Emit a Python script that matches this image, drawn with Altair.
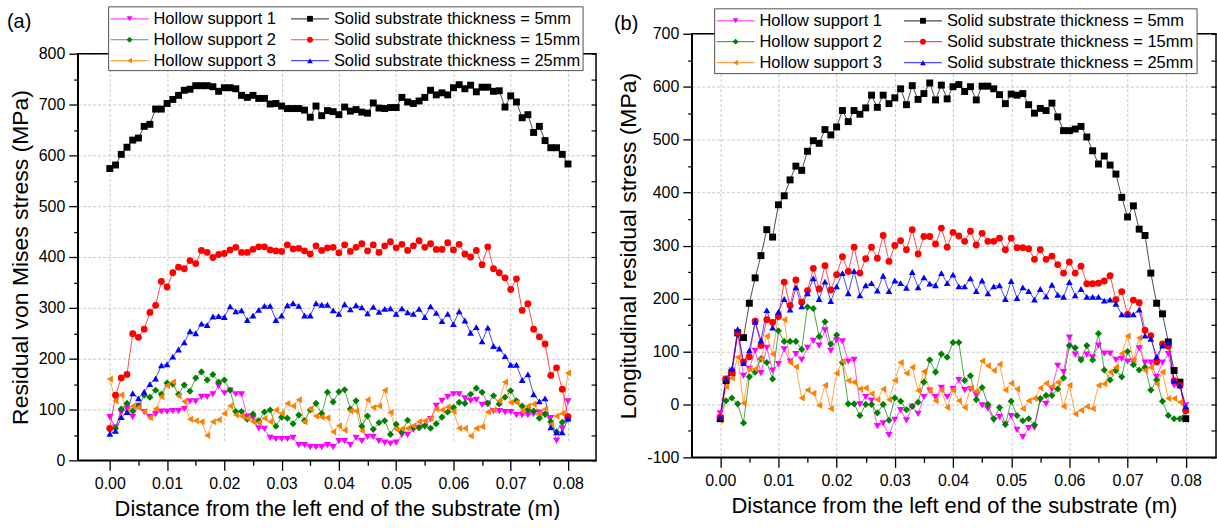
import altair as alt
import pandas as pd

# ---------------- data ----------------
X_POS = [round(i * 0.001, 3) for i in range(81)]

SERIES = ["Hollow support 1", "Hollow support 2", "Hollow support 3",
          "Solid substrate thickness = 5mm", "Solid substrate thickness = 15mm",
          "Solid substrate thickness = 25mm"]
COLORS = ["#ff00ff", "#008000", "#ff8000", "#000000", "#ff0000", "#0000ff"]
SHAPES = ["triangle-down", "diamond", "triangle-left", "square", "circle", "triangle-up"]
SIZES = [52, 46, 52, 44, 48, 52]

# (a) residual von Mises stress
A_HOLLOW1 = [85, 65, 94, 101, 85, 107, 95, 85, 91, 96,
             96, 97, 97, 101, 116, 116, 125, 125, 130, 146,
             132, 137, 130, 130, 86, 83, 63, 62, 44, 42,
             42, 42, 44, 30, 30, 26, 26, 26, 30, 26,
             38, 38, 30, 44, 38, 46, 46, 38, 35, 33,
             35, 50, 50, 60, 64, 66, 81, 107, 117, 125,
             130, 130, 122, 117, 119, 109, 111, 97, 97, 95,
             95, 89, 89, 89, 91, 94, 89, 83, 39, 63,
             116]
A_HOLLOW2 = [61, 63, 101, 112, 97, 107, 128, 124, 138, 130,
             152, 150, 130, 148, 136, 162, 174, 158, 169, 154,
             158, 138, 96, 96, 81, 91, 78, 95, 99, 67,
             85, 83, 72, 89, 78, 99, 112, 92, 134, 115,
             135, 139, 101, 117, 67, 87, 61, 74, 78, 51,
             71, 56, 79, 64, 64, 68, 63, 72, 85, 95,
             104, 114, 112, 130, 142, 134, 112, 127, 111, 124,
             137, 117, 107, 99, 97, 83, 91, 76, 56, 75,
             81]
A_HOLLOW3 = [160, 117, 129, 97, 107, 104, 96, 84, 101, 125,
             147, 154, 127, 116, 81, 78, 76, 49, 76, 80,
             92, 107, 89, 87, 83, 76, 74, 83, 76, 99,
             92, 112, 107, 119, 76, 101, 87, 85, 84, 56,
             68, 59, 97, 97, 58, 119, 104, 107, 138, 94,
             61, 62, 63, 68, 76, 78, 83, 101, 99, 105,
             96, 63, 63, 48, 63, 66, 95, 99, 117, 154,
             114, 114, 97, 107, 111, 92, 101, 70, 87, 92,
             172]
A_SOLID5 = [574, 581, 602, 616, 630, 634, 657, 661, 691, 691,
            702, 710, 718, 728, 730, 737, 737, 737, 735, 726,
            733, 733, 731, 718, 714, 718, 712, 712, 701, 702,
            697, 692, 692, 692, 689, 675, 697, 678, 688, 686,
            680, 695, 687, 690, 685, 683, 703, 693, 692, 694,
            694, 714, 705, 702, 707, 714, 728, 719, 723, 719,
            733, 739, 731, 738, 725, 734, 734, 726, 727, 695,
            717, 705, 674, 680, 645, 657, 629, 615, 615, 602,
            583]
A_SOLID15 = [63, 128, 162, 169, 249, 242, 258, 291, 305, 352,
             341, 369, 380, 377, 393, 387, 413, 409, 399, 405,
             407, 414, 419, 409, 409, 415, 420, 420, 414, 412,
             411, 424, 416, 417, 412, 406, 422, 413, 418, 419,
             408, 424, 411, 419, 426, 412, 424, 409, 422, 430,
             418, 425, 413, 422, 432, 419, 426, 415, 415, 428,
             414, 425, 406, 400, 413, 385, 420, 377, 369, 359,
             336, 357, 295, 308, 258, 243, 229, 167, 182, 140,
             86]
A_SOLID25 = [52, 58, 85, 95, 132, 122, 135, 150, 161, 187,
             189, 204, 218, 232, 254, 250, 269, 266, 283, 284,
             282, 303, 293, 295, 276, 285, 296, 304, 304, 276,
             285, 305, 309, 304, 285, 285, 309, 306, 306, 295,
             288, 307, 297, 305, 301, 289, 302, 292, 298, 299,
             288, 299, 291, 288, 298, 282, 303, 290, 274, 288,
             268, 293, 275, 251, 262, 234, 261, 225, 220, 205,
             188, 188, 158, 169, 130, 116, 122, 65, 55, 55,
             82]

# (b) longitudinal residual stress
B_HOLLOW1 = [-17, 48, 64, 136, 54, 67, 101, 59, 107, 64,
             76, 104, 81, 95, 84, 107, 120, 111, 140, 101,
             121, 119, 81, 84, 0, 14, 7, -41, -36, -58,
             -29, -11, -30, -4, -18, 14, 26, 14, 31, 14,
             29, 46, 27, 29, 17, -2, -8, -30, -24, -38,
             -22, -48, -62, -45, -44, 8, 1, 29, 73, 61,
             126, 94, 84, 94, 89, 111, 96, 96, 84, 86,
             81, 81, 106, 79, 79, 52, 79, 95, 36, 36,
             -2]
B_HOLLOW2 = [-24, 7, 12, 1, -35, 52, 61, 86, 79, 48,
             139, 119, 119, 119, 104, 184, 181, 128, 156, 114,
             131, 79, 1, 1, -21, 0, 0, -16, 0, -30,
             12, 6, -10, -4, 4, 42, 84, 61, 95, 89,
             117, 117, 45, 54, 9, 32, 0, -27, -6, -38,
             6, -21, -31, -27, -39, 11, 17, 17, 29, 50,
             111, 107, 84, 111, 84, 134, 65, 46, 64, 52,
             100, 75, 65, 70, 27, 46, 6, -21, -27, -27,
             -11]
B_HOLLOW3 = [-30, 34, 50, 89, 2, 67, 67, 86, 129, 95,
             171, 160, 79, 71, 12, 27, 21, -2, 36, -8,
             59, 81, 45, 42, 29, 31, 20, 9, 29, 9,
             45, 79, 59, 70, 26, 62, 26, 7, 27, -6,
             27, 7, -6, 31, 25, 82, 73, 64, 76, 27,
             40, 29, -8, 7, 11, 31, 40, 34, 42, -4,
             36, -18, -11, -4, -8, 36, 39, 61, 70, 96,
             129, 84, 126, 64, 70, 39, 61, 11, 11, 4,
             -11]
B_SOLID5 = [-27, 45, 60, 135, 126, 191, 239, 281, 330, 316,
            377, 394, 424, 450, 442, 478, 498, 493, 519, 509,
            524, 555, 534, 555, 548, 560, 584, 561, 584, 568,
            579, 596, 566, 602, 576, 587, 607, 575, 603, 577,
            600, 604, 591, 600, 575, 601, 601, 596, 585, 568,
            586, 584, 587, 566, 550, 559, 555, 569, 543, 517,
            517, 520, 525, 505, 479, 454, 469, 452, 435, 391,
            354, 375, 331, 319, 248, 191, 171, 118, 64, 42,
            -27]
B_SOLID15 = [-24, 48, 60, 136, 80, 90, 157, 111, 160, 155,
             166, 231, 187, 235, 193, 215, 257, 218, 262, 216,
             245, 279, 251, 297, 248, 275, 297, 276, 319, 270,
             300, 309, 292, 330, 284, 317, 317, 303, 333, 297,
             325, 318, 308, 327, 301, 323, 308, 308, 314, 292,
             314, 296, 296, 294, 274, 292, 274, 280, 264, 248,
             269, 248, 261, 228, 228, 229, 233, 243, 198, 213,
             170, 197, 192, 140, 130, 80, 114, 110, 45, 36,
             -12]
B_SOLID25 = [-24, 48, 67, 142, 78, 102, 156, 121, 178, 145,
             175, 199, 179, 221, 185, 210, 238, 199, 232, 195,
             223, 248, 210, 252, 206, 225, 229, 215, 243, 214,
             234, 229, 220, 250, 221, 240, 228, 225, 248, 229,
             245, 223, 223, 238, 214, 234, 210, 223, 225, 199,
             233, 201, 221, 214, 198, 218, 204, 226, 207, 203,
             231, 206, 218, 203, 203, 203, 196, 198, 190, 170,
             170, 170, 179, 130, 124, 90, 111, 117, 45, 36,
             -4]

X_TICKS = [round(i * 0.005, 3) for i in range(17)]
X_TITLE = "Distance from the left end of the substrate (m)"
Y_TITLE_A = "Residual von Mises stress (MPa)"
Y_TITLE_B = "Longitudinal residual stress (MPa)"

FONT = "Liberation Sans"
GRID = "#c8c8c8"


def make_df(arrays):
    rows = []
    for s, vals in zip(SERIES, arrays):
        for x, v in zip(X_POS, vals):
            rows.append({"x": x, "v": v, "series": s})
    return pd.DataFrame(rows)


def legend_df(bx, by, col2):
    rows = []
    for i, s in enumerate(SERIES):
        col, r = divmod(i, 3)
        x0 = bx + (2 if col == 0 else col2)
        rows.append({"series": s, "label": s, "x0": x0, "x1": x0 + 38,
                     "xm": x0 + 19, "tx": x0 + 43, "ly": by + 12 + 21 * r})
    return pd.DataFrame(rows)


def panel(df, W, H, off, xdom, ydom, ytitle, tag, tag_xy, box, col2):
    # off: empty band above the plot frame (lets the two panels sit at different heights)
    xs = alt.Scale(domain=xdom, nice=False, zero=False)
    ys = alt.Scale(domain=ydom, nice=False, zero=False, range=[H + off, off])
    cs = alt.Scale(domain=SERIES, range=COLORS)
    ss = alt.Scale(domain=SERIES, range=SHAPES)
    zs = alt.Scale(domain=SERIES, range=SIZES)
    y_ticks = list(range(ydom[0], ydom[1] + 1, 50))

    x_major = "round(datum.value * 1000) % 10 === 0"
    y_major = "datum.value % 100 === 0"

    common = dict(labelFont=FONT, labelFontSize=16, labelColor="black",
                  titleFont=FONT, titleFontWeight="normal",
                  titleColor="black", domainColor="black", domainWidth=1.5,
                  tickColor="black", tickWidth=1.3, gridColor=GRID,
                  gridDash=[3, 2], gridWidth=1)

    xaxis = alt.Axis(values=X_TICKS, orient="bottom", title=X_TITLE,
                     labelExpr=f"{x_major} ? format(datum.value, '.2f') : ''",
                     tickSize={"condition": {"test": x_major, "value": 10}, "value": 5},
                     gridOpacity={"condition": {"test": x_major, "value": 1}, "value": 0},
                     grid=True, labelPadding=5, titlePadding=7, titleFontSize=22,
                     **common)
    yaxis = alt.Axis(values=y_ticks, orient="left", title=ytitle,
                     labelExpr=f"{y_major} ? (datum.value < 0 ? '-' + format(-datum.value, 'd') : format(datum.value, 'd')) : ''",
                     tickSize={"condition": {"test": y_major, "value": 9}, "value": 4},
                     gridOpacity={"condition": {"test": y_major, "value": 1}, "value": 0},
                     grid=True, labelPadding=4, titlePadding=6, titleFontSize=23,
                     **common)
    top_axis = alt.Axis(values=X_TICKS, orient="top", offset=-(5 + off), labels=False,
                        domain=False, grid=False, tickSize=5, title=None,
                        tickColor="black", tickWidth=1.2)
    right_axis = alt.Axis(values=y_ticks, orient="right", offset=-5, labels=False,
                          domain=False, grid=False, tickSize=5, title=None,
                          tickColor="black", tickWidth=1.2)

    one = pd.DataFrame({"k": [0]})
    frame = alt.Chart(one).mark_rect(fillOpacity=0, stroke="black", strokeWidth=1.5).encode(
        x=alt.value(0), x2=alt.value(W), y=alt.value(off), y2=alt.value(H + off))

    lines = alt.Chart(df).mark_line(strokeWidth=1, opacity=0.7).encode(
        x=alt.X("x:Q", scale=xs, axis=xaxis),
        y=alt.Y("v:Q", scale=ys, axis=yaxis),
        color=alt.Color("series:N", scale=cs, legend=None),
        detail="series:N")
    points = alt.Chart(df).mark_point(filled=True, opacity=1).encode(
        x=alt.X("x:Q", scale=xs, axis=top_axis),
        y=alt.Y("v:Q", scale=ys, axis=right_axis),
        color=alt.Color("series:N", scale=cs, legend=None),
        shape=alt.Shape("series:N", scale=ss, legend=None),
        size=alt.Size("series:N", scale=zs, legend=None))

    bx, by, bw, bh = box
    ldf = legend_df(bx, by, col2)
    lbox = alt.Chart(one).mark_rect(fill="white", stroke="#505050", strokeWidth=1).encode(
        x=alt.value(bx), x2=alt.value(bx + bw), y=alt.value(by), y2=alt.value(by + bh))
    lrule = alt.Chart(ldf).mark_rule(strokeWidth=1.2, opacity=0.7).encode(
        x=alt.X("x0:Q", scale=None, axis=None), x2="x1:Q",
        y=alt.Y("ly:Q", scale=None, axis=None),
        color=alt.Color("series:N", scale=cs, legend=None))
    lpts = alt.Chart(ldf).mark_point(filled=True, size=34, opacity=1).encode(
        x=alt.X("xm:Q", scale=None, axis=None),
        y=alt.Y("ly:Q", scale=None, axis=None),
        color=alt.Color("series:N", scale=cs, legend=None),
        shape=alt.Shape("series:N", scale=ss, legend=None))
    ltxt = alt.Chart(ldf).mark_text(align="left", baseline="middle", font=FONT,
                                    fontSize=16.5, color="black").encode(
        x=alt.X("tx:Q", scale=None, axis=None),
        y=alt.Y("ly:Q", scale=None, axis=None),
        text="label:N")
    tagc = alt.Chart(one).mark_text(text=tag, align="left", baseline="middle",
                                    font=FONT, fontSize=20, color="black").encode(
        x=alt.value(tag_xy[0]), y=alt.value(tag_xy[1]))

    return alt.layer(frame, lines, points, lbox, lrule, lpts, ltxt, tagc).properties(
        width=W, height=H + off)


df_a = make_df([A_HOLLOW1, A_HOLLOW2, A_HOLLOW3, A_SOLID5, A_SOLID15, A_SOLID25])
df_b = make_df([B_HOLLOW1, B_HOLLOW2, B_HOLLOW3, B_SOLID5, B_SOLID15, B_SOLID25])

left = panel(df_a, 520, 408, 20, [-0.0056, 0.0849], [0, 800], Y_TITLE_A, "(a)",
             (-71, -12), (31, -27, 476, 64), 183)
right = panel(df_b, 526, 425, 0, [-0.0049, 0.0852], [-100, 700], Y_TITLE_B, "(b)",
              (-78, -10), (23, -25, 484, 65), 190)

chart = alt.hconcat(left, right, spacing=17).properties(
    padding={"left": 7, "top": 5, "right": 0, "bottom": 0},
    background="white",
).configure_view(strokeWidth=0)

chart.save("out.html", embed_options={"renderer": "svg", "actions": False})
